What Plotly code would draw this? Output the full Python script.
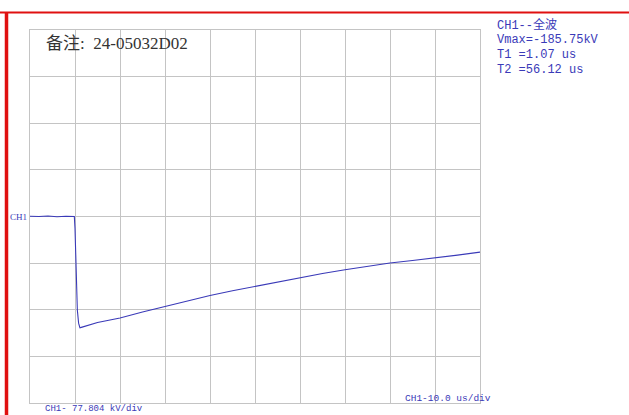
import plotly.graph_objects as go

# Data (time in us, voltage in kV)
time_us = [0, 2, 4, 6, 8, 9.85, 10.0, 10.22, 10.52, 10.8, 11.1, 11.4, 12, 13.3, 15, 17.5,
           20, 25, 30, 35, 40, 45, 50, 55, 60, 65, 70, 75, 80, 85, 90, 95, 100]
volt_kv = [0.5, 0.0, 0.8, -0.3, 0.4, 0.0, -20, -67, -156, -178, -185.75, -185.0, -183.5, -180.1,
           -177, -173, -169.4, -159.5, -150.0, -140.5, -131.7, -124, -116.7, -109, -101.7,
           -95, -88.9, -83, -77.7, -73.5, -69.4, -64.5, -59.4]

info_lines = ["CH1--全波", "Vmax=-185.75kV", "T1 =1.07 us", "T2 =56.12 us"]

kv_per_div = 77.804
us_per_div = 10.0
n_xdiv = 10
n_ydiv = 8

W, H = 629, 415
L, R, T, B = 30, 149, 30, 12
pw, ph = W - L - R, H - T - B

def px(x):
    return (x - L) / pw

def py(y):
    return (H - B - y) / ph

blue = "#3a3ab8"
grid = "#c4c4c4"

fig = go.Figure()
fig.add_trace(go.Scatter(x=time_us, y=volt_kv, mode="lines",
                         line=dict(color=blue, width=1.1), hoverinfo="skip",
                         showlegend=False))

yr = kv_per_div * n_ydiv / 2
fig.update_xaxes(range=[0, us_per_div * n_xdiv], dtick=us_per_div, tick0=0,
                 showgrid=True, gridcolor=grid, gridwidth=1, zeroline=False,
                 showticklabels=False, ticks="", showline=True, mirror=True,
                 linecolor=grid, linewidth=1)
fig.update_yaxes(range=[-yr, yr], dtick=kv_per_div, tick0=0,
                 showgrid=True, gridcolor=grid, gridwidth=1, zeroline=False,
                 showticklabels=False, ticks="", showline=True, mirror=True,
                 linecolor=grid, linewidth=1)

shapes = [
    dict(type="line", xref="paper", yref="paper", x0=px(0), x1=px(W), y0=py(12.5), y1=py(12.5),
         line=dict(color="#e01010", width=2)),
    dict(type="line", xref="paper", yref="paper", x0=px(6.5), x1=px(6.5), y0=py(12), y1=py(H + 2),
         line=dict(color="#e01010", width=3.5)),
]

mono = "Liberation Mono, Noto Sans CJK SC, monospace"
serif = "Liberation Serif, Noto Sans CJK SC, serif"
ann = [
    dict(text="备注:&nbsp;&nbsp;24-05032D02", x=px(44), y=py(43), xanchor="left", yanchor="middle",
         font=dict(family=serif, size=17, color="#333333")),
    dict(text="CH1", x=px(29), y=py(217), xanchor="right", yanchor="middle",
         font=dict(family=serif, size=9, color=blue)),
    dict(text="CH1- 77.804 kV/div", x=px(43), y=py(409), xanchor="left", yanchor="middle",
         font=dict(family=mono, size=9, color=blue)),
    dict(text="CH1-10.0 us/div", x=px(403), y=py(398), xanchor="left", yanchor="middle",
         font=dict(family=mono, size=9.5, color=blue)),
]
for i, line in enumerate(info_lines):
    ann.append(dict(text=line, x=px(495), y=py(25 + 15 * i), xanchor="left", yanchor="middle",
                    font=dict(family=mono, size=12, color=blue)))
for a in ann:
    a.update(xref="paper", yref="paper", showarrow=False)

fig.update_layout(width=W, height=H, margin=dict(l=L, r=R, t=T, b=B),
                  paper_bgcolor="white", plot_bgcolor="white",
                  shapes=shapes, annotations=ann)

fig.write_html("out.html", config={"displayModeBar": False},
               post_script="document.body.style.margin='0';document.body.style.overflow='hidden';")
